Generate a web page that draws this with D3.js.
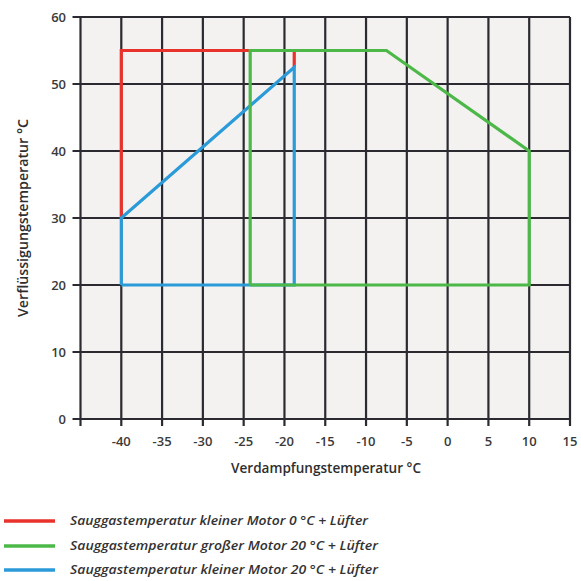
<!DOCTYPE html>
<html><head><meta charset="utf-8">
<script src="https://cdn.jsdelivr.net/npm/d3@7"></script>
<style>body{margin:0;background:#fff}svg{display:block}</style>
</head><body>
<svg id="c" width="581" height="581"></svg>
<script>
const xTicks = [-40,-35,-30,-25,-20,-15,-10,-5,0,5,10,15];
const xGrid = [-45,-40,-35,-30,-25,-20,-15,-10,-5,0,5,10,15];
const yTicks = [0,10,20,30,40,50,60];
const seriesNames = [
  "Sauggastemperatur kleiner Motor 0 °C + Lüfter",
  "Sauggastemperatur großer Motor 20 °C + Lüfter",
  "Sauggastemperatur kleiner Motor 20 °C + Lüfter"
];
const seriesColors = ["#e8322b", "#4cb848", "#2b9ad8"];
const redX = [-40,-40,-18.8,-18.8];
const redY = [30,55,55,52.5];
const greenX = [-24.2,-24.2,-7.5,10,10,-24.2];
const greenY = [20,55,55,40,20,20];
const blueX = [-40,-40,-18.8,-18.8,-40];
const blueY = [20,30,52.5,20,20];
const drawOrder = [0,2,1];

const svg = d3.select("#c");
const x = d3.scaleLinear().domain([-45,15]).range([80.5,570]);
const y = d3.scaleLinear().domain([0,60]).range([419,17]);
const font = "'Open Sans', 'DejaVu Sans', sans-serif";

svg.append("rect").attr("x",x(-45)).attr("y",y(60)).attr("width",x(15)-x(-45)).attr("height",y(0)-y(60)).attr("fill","#f3f2f1");

const grid = svg.append("g").attr("stroke","#2a2a30").attr("stroke-width",2.2);
xGrid.forEach(v=>grid.append("line").attr("x1",x(v)).attr("x2",x(v)).attr("y1",y(60)).attr("y2",y(0)+7));
yTicks.forEach(v=>grid.append("line").attr("x1",x(-45)-8).attr("x2",x(15)).attr("y1",y(v)).attr("y2",y(v)));

svg.append("g").selectAll("text").data(xTicks).join("text")
  .attr("x",d=>x(d)).attr("y",446).attr("text-anchor","middle")
  .attr("font-family",font).attr("font-size",13).attr("font-weight",600).attr("fill","#3a3a3a").text(d=>d);
svg.append("g").selectAll("text").data(yTicks).join("text")
  .attr("x",66).attr("y",d=>y(d)+5).attr("text-anchor","end")
  .attr("font-family",font).attr("font-size",13).attr("font-weight",600).attr("fill","#3a3a3a").text(d=>d);

svg.append("text").attr("x",326).attr("y",473).attr("text-anchor","middle")
  .attr("font-family",font).attr("font-size",14).attr("font-weight",600).attr("fill","#2e2e2e")
  .attr("textLength",190).attr("lengthAdjust","spacingAndGlyphs").text("Verdampfungstemperatur °C");
svg.append("text").attr("transform","translate(28,218) rotate(-90)").attr("text-anchor","middle")
  .attr("font-family",font).attr("font-size",14).attr("font-weight",600).attr("fill","#2e2e2e")
  .attr("textLength",198).attr("lengthAdjust","spacingAndGlyphs").text("Verflüssigungstemperatur °C");

const data = [
  redX.map((v,i)=>[v,redY[i]]),
  greenX.map((v,i)=>[v,greenY[i]]),
  blueX.map((v,i)=>[v,blueY[i]])
];
const line = d3.line().x(d=>x(d[0])).y(d=>y(d[1]));
drawOrder.forEach(i=>{
  svg.append("path").attr("d",line(data[i])).attr("fill","none")
    .attr("stroke",seriesColors[i]).attr("stroke-width",3.2).attr("stroke-linejoin","miter");
});

const lg = svg.append("g");
const legY = [521,546,570];
const legEnd = [368,378,378];
seriesNames.forEach((n,i)=>{
  lg.append("line").attr("x1",4).attr("x2",55).attr("y1",legY[i]).attr("y2",legY[i])
    .attr("stroke",seriesColors[i]).attr("stroke-width",3.5);
  lg.append("text").attr("x",70).attr("y",legY[i]+4).attr("font-family",font).attr("font-style","italic")
    .attr("font-size",12).attr("font-weight",600).attr("fill","#333").attr("textLength",legEnd[i]-70).attr("lengthAdjust","spacingAndGlyphs").text(n);
});
</script>
</body></html>
